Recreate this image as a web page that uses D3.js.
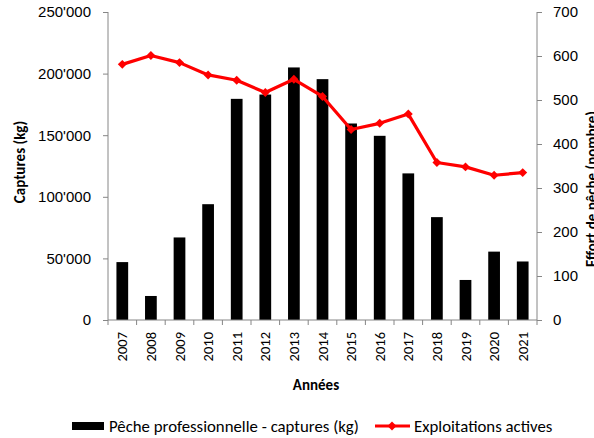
<!DOCTYPE html>
<html lang="fr">
<head>
<meta charset="UTF-8" />
<title>Captures et effort de pêche</title>
<style>
  html, body { margin: 0; padding: 0; background: #fff; }
  svg { display: block; font-family: Carlito, Lato, "Open Sans", sans-serif; }
  .axis path, .axis line { stroke: #868686; }
  .axis text { fill: #000; }
</style>
</head>
<body>
<svg id="chart" width="594" height="438"></svg>
<script src="https://cdn.jsdelivr.net/npm/d3@7"></script>
<script>
const years = ['2007','2008','2009','2010','2011','2012','2013','2014','2015','2016','2017','2018','2019','2020','2021'];
const captures = [47000, 19500, 67000, 94000, 179500, 183000, 205000, 195500, 159500, 149500, 119000, 83500, 32500, 55500, 47500];
const exploitations = [581, 601, 585, 557, 545, 517, 547, 508, 433, 447, 468, 358, 348, 329, 335];
const leftTicks = [0, 50000, 100000, 150000, 200000, 250000];
const rightTicks = [0, 100, 200, 300, 400, 500, 600, 700];

const svg = d3.select('#chart');
const plotL = 108, plotR = 537, plotT = 12, plotB = 320;

const x = d3.scaleBand().domain(years).range([plotL, plotR]).paddingInner(0.59).paddingOuter(0.295);
const xb = d3.scaleBand().domain(years).range([plotL, plotR]);
const yL = d3.scaleLinear().domain([0, 250000]).range([plotB, plotT]);
const yR = d3.scaleLinear().domain([0, 700]).range([plotB, plotT]);

const fmt = v => d3.format(',')(v).replace(/,/g, "'");

// bars
svg.append('g').selectAll('rect')
  .data(captures)
  .join('rect')
  .attr('x', (d, i) => x(years[i]))
  .attr('width', x.bandwidth())
  .attr('y', d => yL(d))
  .attr('height', d => plotB - yL(d))
  .attr('fill', '#000');

// left axis
const gL = svg.append('g').attr('class', 'axis').attr('transform', `translate(${plotL},0)`)
  .call(d3.axisLeft(yL).tickValues(leftTicks).tickFormat(fmt).tickSize(5).tickSizeOuter(0).tickPadding(12));
gL.selectAll('text').style('font-size', '15px');
gL.select('.domain').attr('d', `M0,${plotT}V${plotB + 5}`);

// right axis
const gR = svg.append('g').attr('class', 'axis').attr('transform', `translate(${plotR},0)`)
  .call(d3.axisRight(yR).tickValues(rightTicks).tickSize(5).tickSizeOuter(0).tickPadding(11));
gR.selectAll('text').style('font-size', '15px');
gR.select('.domain').attr('d', `M0,${plotT}V${plotB + 5}`);

// bottom axis
const gB = svg.append('g').attr('class', 'axis').attr('transform', `translate(0,${plotB})`);
gB.append('line').attr('x1', plotL).attr('x2', plotR).attr('y1', 0).attr('y2', 0);
gB.selectAll('line.tick')
  .data(years.slice(1))
  .join('line')
  .attr('class', 'tick')
  .attr('x1', d => xb(d)).attr('x2', d => xb(d))
  .attr('y1', 0).attr('y2', 5);
gB.selectAll('text')
  .data(years)
  .join('text')
  .attr('transform', d => `translate(${xb(d) + xb.bandwidth() / 2 + 5},${12}) rotate(-90)`)
  .attr('text-anchor', 'end')
  .style('font-size', '14.5px')
  .text(d => d);

// line
const line = d3.line()
  .x((d, i) => xb(years[i]) + xb.bandwidth() / 2)
  .y(d => yR(d));
svg.append('path')
  .datum(exploitations)
  .attr('d', line)
  .attr('fill', 'none')
  .attr('stroke', '#ff0000')
  .attr('stroke-width', 3.2)
  .attr('stroke-linejoin', 'round');

const diamond = d3.symbol().type(d3.symbolSquare).size(40);
svg.append('g').selectAll('path')
  .data(exploitations)
  .join('path')
  .attr('d', diamond)
  .attr('transform', (d, i) => `translate(${xb(years[i]) + xb.bandwidth() / 2},${yR(d)}) rotate(45)`)
  .attr('fill', '#ff0000');

// titles
svg.append('text')
  .attr('transform', `translate(25,162) rotate(-90)`)
  .attr('text-anchor', 'middle')
  .style('font-size', '15px').style('font-weight', 'bold')
  .text('Captures (kg)');

svg.append('text')
  .attr('transform', `translate(597,189) rotate(-90)`)
  .attr('text-anchor', 'middle')
  .style('font-size', '15px').style('font-weight', 'bold')
  .text('Effort de pêche (nombre)');

svg.append('text')
  .attr('x', 316).attr('y', 390)
  .attr('text-anchor', 'middle')
  .style('font-size', '15px').style('font-weight', 'bold')
  .text('Années');

// legend
const lg = svg.append('g');
lg.append('rect').attr('x', 72).attr('y', 422).attr('width', 32).attr('height', 8).attr('fill', '#000');
lg.append('text').attr('x', 109).attr('y', 432).style('font-size', '16.8px').text('Pêche professionnelle - captures (kg)');
lg.append('line').attr('x1', 375).attr('x2', 410).attr('y1', 426).attr('y2', 426)
  .attr('stroke', '#ff0000').attr('stroke-width', 3.2);
lg.append('path').attr('d', diamond).attr('transform', 'translate(392,426) rotate(45)').attr('fill', '#ff0000');
lg.append('text').attr('x', 414).attr('y', 432).style('font-size', '16.8px').text('Exploitations actives');
</script>
</body>
</html>
